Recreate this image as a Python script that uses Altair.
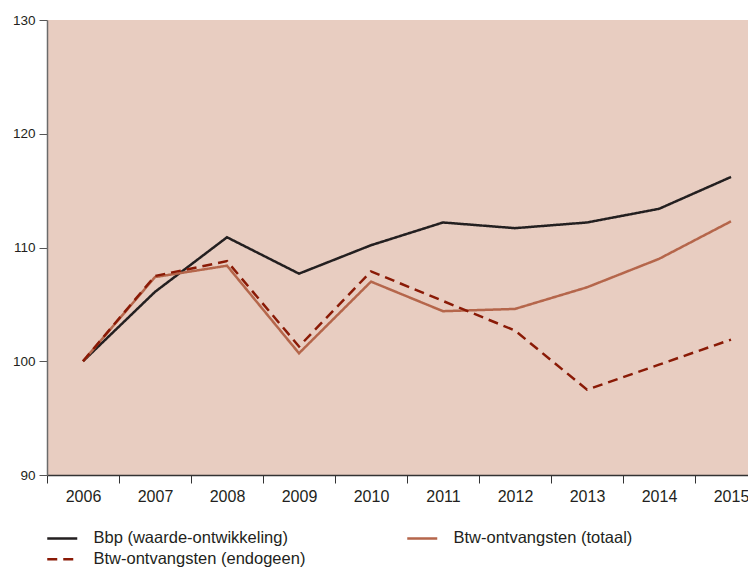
import altair as alt
import pandas as pd

years = [2006, 2007, 2008, 2009, 2010, 2011, 2012, 2013, 2014, 2015]
bbp = [100, 106.1, 110.9, 107.7, 110.2, 112.2, 111.7, 112.2, 113.4, 116.2]
totaal = [100, 107.4, 108.4, 100.7, 107.0, 104.4, 104.6, 106.5, 109.0, 112.3]
endogeen = [100, 107.5, 108.8, 101.3, 107.9, 105.3, 102.7, 97.5, 99.7, 101.9]

series = [
    "Bbp (waarde-ontwikkeling)",
    "Btw-ontvangsten (totaal)",
    "Btw-ontvangsten (endogeen)",
]
colors = ["#231f20", "#b5664b", "#8a1a06"]
dashes = [[1, 0], [1, 0], [10, 6]]
y_ticks = [90, 100, 110, 120, 130]
x_tick_positions = [y - 0.5 for y in years]

rows = []
for name, vals in zip(series, [bbp, totaal, endogeen]):
    for yr, v in zip(years, vals):
        rows.append({"jaar": yr, "waarde": v, "reeks": name})
df = pd.DataFrame(rows)

legend = alt.Legend(
    title=None,
    orient="none",
    legendX=7,
    legendY=510,
    direction="horizontal",
    columns=2,
    columnPadding=96,
    rowPadding=4,
    symbolType="M-3,0H3",
    symbolSize=100,
    symbolStrokeWidth=2.5,
    labelFont="Liberation Sans",
    labelFontSize=16.5,
    labelColor="#231f20",
    labelOffset=23,
    labelLimit=400,
)

chart = (
    alt.Chart(df)
    .mark_line(strokeWidth=2.5)
    .encode(
        x=alt.X(
            "jaar:Q",
            scale=alt.Scale(domain=[2005.5, 2005.5 + 701 / 72], nice=False, zero=False),
            axis=alt.Axis(
                values=x_tick_positions,
                labelExpr="format(datum.value + 0.5, 'd')",
                labelOffset=36,
                labelFlush=False,
                labelOverlap=False,
                title=None,
                grid=False,
                tickSize=8,
                tickColor="#333333",
                domainColor="#333333",
                domainWidth=1.5,
                labelFont="Liberation Sans",
                labelFontSize=16,
                labelColor="#231f20",
                labelPadding=5,
            ),
        ),
        y=alt.Y(
            "waarde:Q",
            scale=alt.Scale(domain=[90, 130], nice=False, zero=False),
            axis=alt.Axis(
                values=y_ticks,
                title=None,
                grid=False,
                tickSize=8,
                tickColor="#555555",
                domainColor="#6b6b6b",
                domainWidth=1.5,
                labelFont="Liberation Sans",
                labelFontSize=13.5,
                labelColor="#231f20",
                labelPadding=4,
                labelFlush=False,
            ),
        ),
        color=alt.Color(
            "reeks:N", scale=alt.Scale(domain=series, range=colors), legend=legend
        ),
        strokeDash=alt.StrokeDash(
            "reeks:N", scale=alt.Scale(domain=series, range=dashes), legend=legend
        ),
    )
    .properties(
        width=701,
        height=455,
        autosize=alt.AutoSizeParams(type="none"),
        padding={"left": 39, "top": 12, "right": 0, "bottom": 92},
    )
    .configure_view(fill="#e8cdc1", stroke=None)
)

chart.save("out.html", embed_options={"renderer": "svg", "actions": False})
